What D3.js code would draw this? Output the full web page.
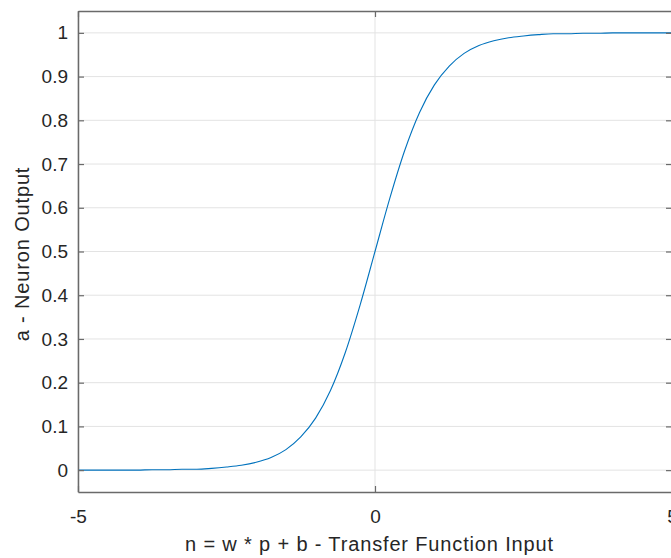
<!DOCTYPE html>
<html>
<head>
<meta charset="utf-8">
<script src="https://cdn.jsdelivr.net/npm/d3@7"></script>
<style>
  html, body { margin: 0; padding: 0; background: #fff; overflow: hidden; }
  svg { display: block; }
  text { font-family: "Liberation Sans", Arial, Helvetica, sans-serif; fill: #262626; }
</style>
</head>
<body>
<script>
// Data
const nValues = [-5,-4.75,-4.5,-4.25,-4,-3.75,-3.5,-3.25,-3,-2.75,-2.5,-2.25,-2,-1.75,-1.5,-1.25,-1,-0.75,-0.5,-0.25,0,
                 0.25,0.5,0.75,1,1.25,1.5,1.75,2,2.25,2.5,2.75,3,3.25,3.5,3.75,4,4.25,4.5,4.75,5];
const aValues = [0.000,0.000,0.000,0.000,0.000,0.001,0.001,0.002,0.002,0.004,0.007,0.011,0.018,0.029,0.047,0.076,0.119,0.182,0.269,0.378,0.500,
                 0.622,0.731,0.818,0.881,0.924,0.953,0.971,0.982,0.989,0.993,0.996,0.998,0.998,0.999,0.999,1.000,1.000,1.000,1.000,1.000];
const xTicks = [-5, 0, 5];
const yTicks = [0, 0.1, 0.2, 0.3, 0.4, 0.5, 0.6, 0.7, 0.8, 0.9, 1];
const xLabel = "n = w * p + b - Transfer Function Input";
const yLabel = "a - Neuron Output";

const W = 671, H = 558;
const pLeft = 78, pRight = 672, pTop = 11, pBottom = 492;

const svg = d3.select("body").append("svg").attr("width", W).attr("height", H);

const x = d3.scaleLinear().domain([-5, 5]).range([pLeft, pRight]);
const y = d3.scaleLinear().domain([-0.05, 1.05]).range([pBottom, pTop]);
const fmt = d => String(+d.toFixed(2)).replace("\u2212", "-");

// grid
const grid = svg.append("g");
grid.selectAll("line.gy").data(yTicks).join("line")
  .attr("x1", pLeft).attr("x2", pRight)
  .attr("y1", d => y(d)).attr("y2", d => y(d))
  .attr("stroke", "#e3e3e3").attr("stroke-width", 1);
grid.selectAll("line.gx").data(xTicks).join("line")
  .attr("y1", pTop).attr("y2", pBottom)
  .attr("x1", d => x(d)).attr("x2", d => x(d))
  .attr("stroke", "#e3e3e3").attr("stroke-width", 1);

// curve
const pts = nValues.map((n, i) => [n, aValues[i]]);
svg.append("path")
  .datum(pts)
  .attr("fill", "none")
  .attr("stroke", "#0072BD")
  .attr("stroke-width", 1.1)
  .attr("d", d3.line().x(d => x(d[0])).y(d => y(d[1])).curve(d3.curveMonotoneX));

// axes (MATLAB-like, ticks inward, box on)
const axisColor = "#6a6a6a";
const tickLen = 6;
const yAxisL = svg.append("g").attr("transform", `translate(${pLeft},0)`)
  .call(d3.axisLeft(y).tickValues(yTicks).tickSizeInner(-tickLen).tickSizeOuter(0).tickPadding(10)
    .tickFormat(fmt));
const yAxisR = svg.append("g").attr("transform", `translate(${pRight},0)`)
  .call(d3.axisRight(y).tickValues(yTicks).tickSizeInner(-tickLen).tickSizeOuter(0).tickFormat(""));
const xAxisB = svg.append("g").attr("transform", `translate(0,${pBottom})`)
  .call(d3.axisBottom(x).tickValues(xTicks).tickSizeInner(-tickLen).tickSizeOuter(0).tickPadding(17.5)
    .tickFormat(fmt));
const xAxisT = svg.append("g").attr("transform", `translate(0,${pTop})`)
  .call(d3.axisTop(x).tickValues(xTicks).tickSizeInner(-tickLen).tickSizeOuter(0).tickFormat(""));

[yAxisL, yAxisR, xAxisB, xAxisT].forEach(g => {
  g.select(".domain").attr("stroke", axisColor).attr("stroke-width", 1.5);
  g.selectAll(".tick line").attr("stroke", axisColor).attr("stroke-width", 1.2);
  g.selectAll(".tick text").attr("font-size", 19).attr("fill", "#262626")
    .attr("font-family", "'Liberation Sans', Arial, sans-serif");
});

// labels
svg.append("text")
  .attr("x", 369.5).attr("y", 551)
  .attr("text-anchor", "middle").attr("font-size", 20)
  .attr("letter-spacing", 0.85)
  .text(xLabel);
svg.append("text")
  .attr("transform", `translate(29,254) rotate(-90)`)
  .attr("text-anchor", "middle").attr("font-size", 20)
  .attr("letter-spacing", 0.85)
  .text(yLabel);
</script>
</body>
</html>
